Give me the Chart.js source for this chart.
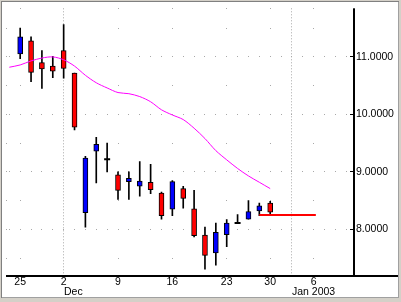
<!DOCTYPE html>
<html><head><meta charset="utf-8">
<script src="https://cdn.jsdelivr.net/npm/chart.js@4.4.1/dist/chart.umd.min.js"></script>
<style>
html,body{margin:0;padding:0;background:#fff;}
#wrap{position:relative;width:401px;height:302px;overflow:hidden;background:#fff;}
#c{position:absolute;left:0;top:0;width:401px;height:302px;}
#frame{position:absolute;left:0;top:0;width:401px;height:302px;box-sizing:border-box;pointer-events:none;
 border-top:1px solid #d4d0c8;border-left:1px solid #d4d0c8;border-right:2px solid #d4d0c8;border-bottom:4px solid #d4d0c8;
 box-shadow:inset 1px 1px 0 #808080, inset -1px -1px 0 #a0a0a0;}
</style></head>
<body><div id="wrap"><canvas id="c" width="401" height="302"></canvas><div id="frame"></div></div>
<script>
// ---- data (x = trading-day index, 0 = 25 Nov 2002) ----
const days   = ['2002-11-25','2002-11-26','2002-11-27','2002-11-29','2002-12-02','2002-12-03','2002-12-04','2002-12-05','2002-12-06','2002-12-09','2002-12-10','2002-12-11','2002-12-12','2002-12-13','2002-12-16','2002-12-17','2002-12-18','2002-12-19','2002-12-20','2002-12-23','2002-12-24','2002-12-26','2002-12-27','2002-12-30'];
const opens  = [11.05,11.28,10.90,10.84,11.11,10.72,8.29,9.36,9.22,8.95,8.83,8.75,8.82,8.63,8.35,8.71,8.36,7.90,7.59,7.91,8.11,8.18,8.32,8.46];
const highs  = [11.50,11.35,11.11,11.01,11.56,10.72,9.27,9.60,9.50,9.00,9.00,9.18,9.13,8.65,8.85,8.75,8.68,8.04,8.11,8.17,8.26,8.50,8.46,8.49];
const lows   = [10.97,10.57,10.45,10.64,10.63,9.73,8.04,8.81,9.00,8.52,8.52,8.58,8.62,8.18,8.24,8.37,7.87,7.31,7.38,7.70,8.11,8.18,8.24,8.26];
const closes = [11.35,10.73,10.79,10.75,10.80,9.78,9.24,9.48,9.22,8.68,8.89,8.84,8.69,8.24,8.83,8.54,7.89,7.55,7.95,8.11,8.11,8.31,8.41,8.30];

// moving average, first value belongs to trading day index -1 (22 Nov)
const maStart  = -1;
const maValues = [10.82,10.86,10.93,10.98,11.00,10.95,10.84,10.68,10.55,10.46,10.38,10.36,10.31,10.22,10.08,9.99,9.91,9.76,9.58,9.37,9.21,9.06,8.93,8.82,8.71];

// horizontal level line
const levelX = [22, 27.2];
const levelY = [8.25, 8.25];

// axis ticks
const weekTickIdx    = [0, 4, 9, 14, 19, 23, 27];
const weekTickLabels = ['25', '2', '9', '16', '23', '30', '6'];
const monthIdx       = [4, 25];
const monthLabels    = ['Dec', 'Jan 2003'];
const priceTicks     = [8, 9, 10, 11];

// ---- chart ----
const X_MIN = -1.304, X_MAX = 30.71, Y_MIN = 7.19, Y_MAX = 11.845;
const FONT = {family: "'Liberation Sans', Arial, sans-serif", size: 10.5};
const UP = '#0000ff', DOWN = '#ff0000';

const idx = opens.map((_, i) => i);
const wickData = idx.map(i => ({x: i, y: [lows[i], highs[i]]}));
const bodyData = idx.filter(i => opens[i] !== closes[i]).map(i => ({x: i, y: [opens[i], closes[i]]}));
const dojiData = idx.filter(i => opens[i] === closes[i]).map(i => ({x: i, y: opens[i]}));
const maData = maValues.map((v, k) => ({x: maStart + k, y: v}));
const levelData = levelX.map((x, k) => ({x, y: levelY[k]}));

const gridPlugin = {
  id: 'gridDots',
  beforeDatasetsDraw(chart) {
    const {ctx, chartArea: a, scales: {x, y}} = chart;
    ctx.save();
    ctx.fillStyle = '#a8a8a8';
    const dot = (px, py) => ctx.fillRect(Math.floor(px), Math.floor(py), 1, 1);
    const dayFirst = Math.ceil(x.min), dayLast = Math.floor(x.max);
    for (const v of priceTicks) {
      const py = y.getPixelForValue(v);
      for (let d = dayFirst; d <= dayLast; d++) dot(x.getPixelForValue(d), py);
    }
    const half = [];
    for (let v = Math.ceil(y.min * 2) / 2; v <= y.max; v += 0.5) half.push(v);
    for (const w of weekTickIdx) {
      if (monthIdx.includes(w)) continue;
      const px = x.getPixelForValue(w);
      for (const v of half) dot(px, y.getPixelForValue(v));
      dot(px, a.top);
    }
    for (const v of half) dot(a.left, y.getPixelForValue(v));
    ctx.strokeStyle = '#a8a8a8';
    ctx.lineWidth = 1;
    ctx.setLineDash([1, 2]);
    for (const m of monthIdx) {
      const px = Math.floor(x.getPixelForValue(m)) + 0.5;
      ctx.beginPath(); ctx.moveTo(px, a.top); ctx.lineTo(px, a.bottom); ctx.stroke();
    }
    ctx.setLineDash([]);
    ctx.fillStyle = '#000';
    for (const v of priceTicks) ctx.fillRect(Math.round(a.right) - 4, Math.floor(y.getPixelForValue(v)), 3, 1);
    ctx.fillRect(Math.round(a.right) - 1, a.top, 2, a.bottom - a.top);
    ctx.fillRect(a.left, Math.round(a.bottom) - 1, chart.width - a.left, 2);
    ctx.restore();
  },
  afterDraw(chart) {
    // month names, left-aligned at the first trading day of each month
    const {ctx, chartArea: a, scales: {x}} = chart;
    ctx.save();
    ctx.font = Chart.helpers.toFont(FONT).string;
    ctx.fillStyle = '#000';
    ctx.textAlign = 'left';
    ctx.textBaseline = 'middle';
    monthIdx.forEach((m, k) => ctx.fillText(monthLabels[k], Math.round(x.getPixelForValue(m)), a.bottom + 16));
    ctx.restore();
  }
};

new Chart(document.getElementById('c'), {
  type: 'bar',
  data: {
    datasets: [
      {type: 'bar', data: wickData, grouped: false, barThickness: 1, backgroundColor: '#000', borderWidth: 0, order: 5},
      {type: 'bar', data: bodyData, grouped: false, barThickness: 5,
        backgroundColor: c => (closes[c.raw.x] > opens[c.raw.x] ? UP : DOWN),
        borderColor: '#000', borderWidth: 1, borderSkipped: false, order: 4},
      {type: 'line', data: dojiData, showLine: false, pointStyle: 'line', pointRadius: 3, pointBorderWidth: 2,
        pointBorderColor: '#000', borderColor: '#000', order: 3},
      {type: 'line', data: maData, borderColor: '#ff00ff', borderWidth: 1, pointRadius: 0, tension: 0.3, order: 2},
      {type: 'line', data: levelData, borderColor: '#ff0000', borderWidth: 2, pointRadius: 0, order: 1}
    ]
  },
  options: {
    responsive: false,
    animation: false,
    events: [],
    layout: {padding: {left: 3, top: 2, right: 0, bottom: 0}},
    plugins: {legend: {display: false}, tooltip: {enabled: false}},
    scales: {
      x: {
        type: 'linear', min: X_MIN, max: X_MAX, offset: false,
        grid: {display: false, drawTicks: false}, border: {display: false},
        afterBuildTicks: s => { s.ticks = weekTickIdx.map(v => ({value: v})); },
        afterFit: s => { s.height = 26; },
        ticks: {autoSkip: false, maxRotation: 0, padding: 0, color: '#000', font: FONT,
          callback: (v, i) => weekTickLabels[i]}
      },
      y: {
        type: 'linear', position: 'right', min: Y_MIN, max: Y_MAX, beginAtZero: false,
        grid: {display: false, drawTicks: false}, border: {display: false},
        afterBuildTicks: s => { s.ticks = priceTicks.map(v => ({value: v})); },
        afterFit: s => { s.width = 47; },
        ticks: {padding: 2, color: '#000', font: FONT, callback: v => v.toFixed(4)}
      }
    }
  },
  plugins: [gridPlugin]
});
</script></body></html>
